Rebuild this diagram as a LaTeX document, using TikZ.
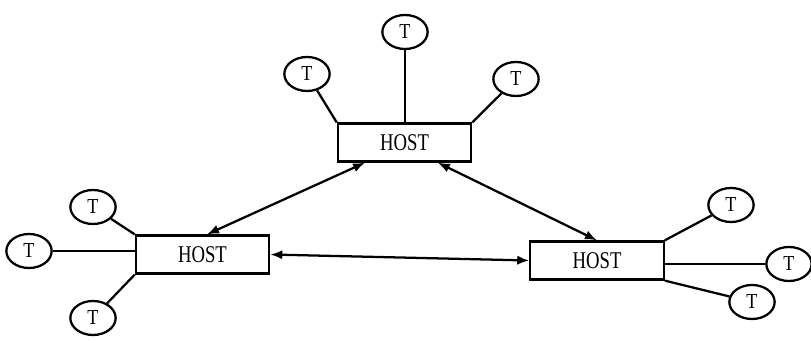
\documentclass[tikz,border=0pt]{standalone}
\usepackage{fontspec}
\setmainfont{Liberation Serif}
\usetikzlibrary{shapes.geometric,arrows.meta}
\begin{document}
\begin{tikzpicture}[x=0.75pt,y=-0.75pt,
  line width=1.7pt,
  hostbox/.style={draw,rectangle,minimum width=100pt,minimum height=28.5pt,inner sep=0pt,
    font=\fontsize{18}{18}\selectfont},
  term/.style={draw,ellipse,minimum width=34pt,minimum height=25.5pt,inner sep=0pt,
    font=\fontsize{16}{16}\selectfont},
  link/.style={{Latex[length=9pt,width=7pt]}-{Latex[length=9pt,width=7pt]}}]
\useasboundingbox (0,0) rectangle (811,341);
% hosts
\node[hostbox] (top) at (404.5,142.5) {\scalebox{0.78}[1]{HOST}};
\node[hostbox] (left) at (202.5,254.5) {\scalebox{0.78}[1]{HOST}};
\node[hostbox] (right) at (597,260.5) {\scalebox{0.78}[1]{HOST}};
% terminals of top host
\node[term] (ta) at (307,74) {\scalebox{0.85}[1]{T}};
\node[term] (tb) at (405,32) {\scalebox{0.85}[1]{T}};
\node[term] (tc) at (516,79) {\scalebox{0.85}[1]{T}};
% terminals of left host
\node[term] (la) at (93,207) {\scalebox{0.85}[1]{T}};
\node[term] (lb) at (29,251) {\scalebox{0.85}[1]{T}};
\node[term] (lc) at (93,318) {\scalebox{0.85}[1]{T}};
% terminals of right host
\node[term] (ra) at (731,205) {\scalebox{0.85}[1]{T}};
\node[term] (rb) at (789,264) {\scalebox{0.85}[1]{T}};
\node[term] (rc) at (752,302) {\scalebox{0.85}[1]{T}};
% terminal lines
\draw (ta) -- (top.north west);
\draw (tb) -- (tb |- top.north);
\draw (tc) -- (top.north east);
\draw (la) -- (left.north west);
\draw (lb) -- (lb -| left.west);
\draw (lc) -- (left.south west);
\draw (ra) -- (right.north east);
\draw (rb) -- (rb -| right.east);
\draw (rc) -- (right.south east);
% host links
\draw[link] ([xshift=-29.6pt]top.south) -- ([xshift=3.4pt]left.north);
\draw[link] ([xshift=25pt]top.south) -- (right.north);
\draw[link] (left.east) -- (right.west);
\end{tikzpicture}
\end{document}
